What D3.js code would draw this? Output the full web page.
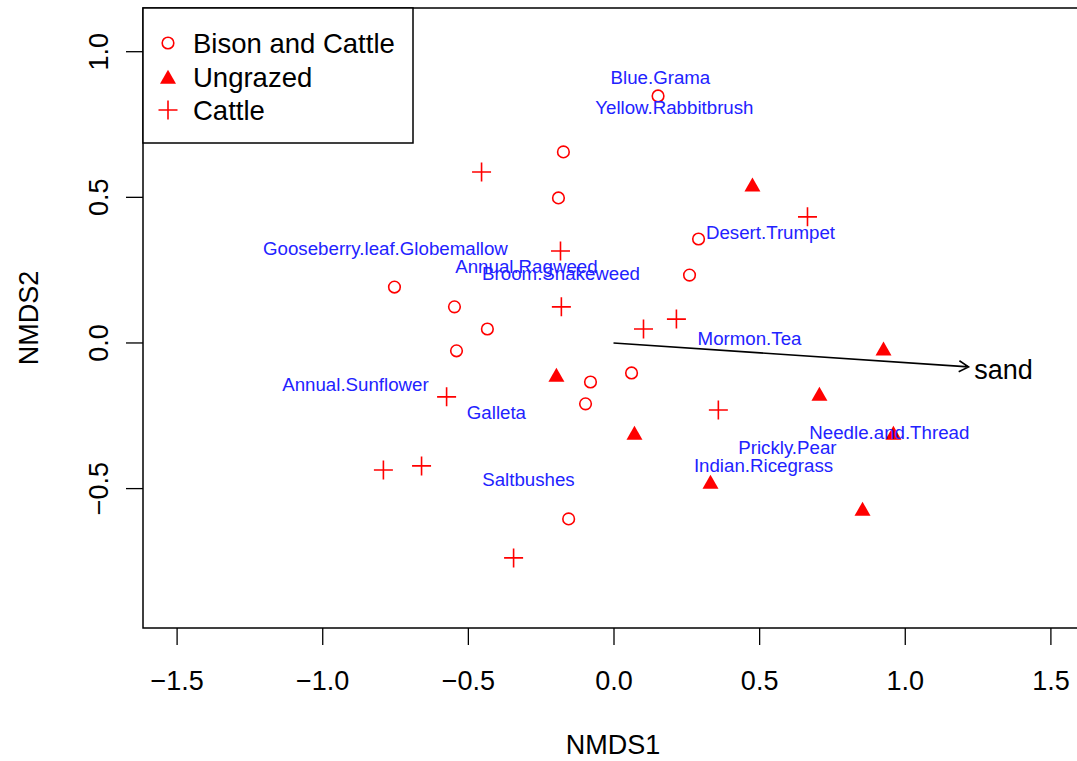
<!DOCTYPE html>
<html>
<head>
<meta charset="utf-8">
<script src="https://cdn.jsdelivr.net/npm/d3@7"></script>
<style>
  body { margin: 0; background: #fff; }
  svg { display: block; font-family: "Liberation Sans", Arial, Helvetica, sans-serif; }
</style>
</head>
<body>
<div id="chart"></div>
<script>
// site scores (NMDS1, NMDS2)
const bisonCattle = [
  [0.153, 0.848], [-0.172, 0.656], [-0.189, 0.498], [0.292, 0.357], [0.261, 0.233],
  [-0.752, 0.192], [-0.546, 0.124], [-0.433, 0.048], [-0.539, -0.027], [0.062, -0.103],
  [-0.079, -0.134], [-0.096, -0.209], [-0.154, -0.604]
];
const ungrazed = [
  [0.477, 0.536], [-0.196, -0.117], [0.927, -0.027], [0.707, -0.182],
  [0.072, -0.316], [0.961, -0.316], [0.333, -0.484], [0.855, -0.577]
];
const cattle = [
  [-0.453, 0.587], [0.666, 0.433], [-0.182, 0.316], [-0.179, 0.124], [0.103, 0.048],
  [0.216, 0.082], [0.360, -0.230], [-0.573, -0.185], [-0.659, -0.422], [-0.790, -0.436],
  [-0.343, -0.738]
];

// species scores
const speciesNames = ["Blue.Grama", "Yellow.Rabbitbrush", "Desert.Trumpet", "Gooseberry.leaf.Globemallow",
  "Annual.Ragweed", "Broom.Snakeweed", "Mormon.Tea", "Annual.Sunflower", "Galleta",
  "Needle.and.Thread", "Prickly.Pear", "Indian.Ricegrass", "Saltbushes"];
const speciesX = [0.161, 0.209, 0.539, -0.783, -0.299, -0.180, 0.467, -0.886, -0.402, 0.947, 0.597, 0.515, -0.292];
const speciesY = [0.913, 0.807, 0.378, 0.323, 0.264, 0.237, 0.017, -0.144, -0.240, -0.309, -0.359, -0.422, -0.470];

// env fit vector
const envName = "sand";
const envVec = [1.219, -0.082];
const envLabel = [1.339, -0.093];

const xTicks = [-1.5, -1.0, -0.5, 0.0, 0.5, 1.0, 1.5];
const yTicks = [-0.5, 0.0, 0.5, 1.0];
const legendLabels = ["Bison and Cattle", "Ungrazed", "Cattle"];

const W = 1077, H = 761;
const box = { left: 143, right: 1083, top: 8, bottom: 628 };
const RED = "#ff0000";

const svg = d3.select("#chart").append("svg").attr("width", W).attr("height", H);

const x = d3.scaleLinear().domain([-1.5, 1.5]).range([176.6, 1050.4]);
const y = d3.scaleLinear().domain([-0.5, 1.0]).range([488.6, 51.7]);

// plot frame
svg.append("rect")
  .attr("x", box.left).attr("y", box.top)
  .attr("width", box.right - box.left).attr("height", box.bottom - box.top)
  .attr("fill", "none").attr("stroke", "#000").attr("stroke-width", 1.5);

// axes, R style: ticks outward, labels at some distance
const xAxis = d3.axisBottom(x).tickValues(xTicks).tickSize(17).tickPadding(26)
  .tickFormat(d => d3.format(".1f")(d).replace("-", "\u2212"));
const gx = svg.append("g").attr("transform", `translate(0,${box.bottom})`).call(xAxis);
gx.select(".domain").remove();
gx.selectAll("line").attr("stroke", "#000").attr("stroke-width", 1.3);
gx.selectAll("text").attr("font-size", 27).attr("fill", "#000").attr("font-family", null);

const gy = svg.append("g").attr("transform", `translate(${box.left},0)`);
gy.selectAll("line").data(yTicks).join("line")
  .attr("x1", 0).attr("x2", -17).attr("y1", d => y(d)).attr("y2", d => y(d))
  .attr("stroke", "#000").attr("stroke-width", 1.3);
gy.selectAll("text").data(yTicks).join("text")
  .attr("transform", d => `translate(-35,${y(d)}) rotate(-90)`)
  .attr("text-anchor", "middle")
  .attr("font-size", 27)
  .text(d => d3.format(".1f")(d).replace("-", "\u2212"));

svg.append("text").attr("x", (box.left + box.right) / 2).attr("y", 754)
  .attr("text-anchor", "middle").attr("font-size", 27).text("NMDS1");
svg.append("text")
  .attr("transform", `translate(38,${(box.top + box.bottom) / 2}) rotate(-90)`)
  .attr("text-anchor", "middle").attr("font-size", 27).text("NMDS2");

// symbols
const circleSym = (g, cx, cy) => g.append("circle").attr("cx", cx).attr("cy", cy).attr("r", 5.8)
  .attr("fill", "none").attr("stroke", RED).attr("stroke-width", 1.6);
const triSym = (g, cx, cy) => g.append("path")
  .attr("d", `M${cx},${cy - 9.3}L${cx + 8},${cy + 4.7}L${cx - 8},${cy + 4.7}Z`)
  .attr("fill", RED);
const plusSym = (g, cx, cy) => g.append("path")
  .attr("d", `M${cx - 9.5},${cy}H${cx + 9.5}M${cx},${cy - 9.5}V${cy + 9.5}`)
  .attr("stroke", RED).attr("stroke-width", 1.6).attr("fill", "none");

const pts = svg.append("g");
bisonCattle.forEach(d => circleSym(pts, x(d[0]), y(d[1])));
ungrazed.forEach(d => triSym(pts, x(d[0]), y(d[1])));
cattle.forEach(d => plusSym(pts, x(d[0]), y(d[1])));

// species labels
svg.append("g").selectAll("text").data(speciesNames).join("text")
  .attr("x", (d, i) => x(speciesX[i]))
  .attr("y", (d, i) => y(speciesY[i]))
  .attr("text-anchor", "middle")
  .attr("dominant-baseline", "central")
  .attr("font-size", 18.7)
  .attr("fill", "#2222ff")
  .text(d => d);

// sand arrow
const x0 = x(0), y0 = y(0), x1 = x(envVec[0]), y1 = y(envVec[1]);
const ang = Math.atan2(y1 - y0, x1 - x0);
const hl = 11, ha = Math.PI / 6;
svg.append("path")
  .attr("d", `M${x0},${y0}L${x1},${y1}` +
    `M${x1 - hl * Math.cos(ang - ha)},${y1 - hl * Math.sin(ang - ha)}L${x1},${y1}` +
    `L${x1 - hl * Math.cos(ang + ha)},${y1 - hl * Math.sin(ang + ha)}`)
  .attr("fill", "none").attr("stroke", "#000").attr("stroke-width", 1.6);
svg.append("text").attr("x", x(envLabel[0])).attr("y", y(envLabel[1]))
  .attr("text-anchor", "middle").attr("dominant-baseline", "central")
  .attr("font-size", 27).text(envName);

// legend
const lg = svg.append("g");
lg.append("rect").attr("x", box.left).attr("y", box.top).attr("width", 270).attr("height", 135)
  .attr("fill", "#fff").attr("stroke", "#000").attr("stroke-width", 1.5);
const rowY = [43, 77, 110];
circleSym(lg, 168, rowY[0]);
triSym(lg, 168, rowY[1] + 2);
plusSym(lg, 168, rowY[2]);
legendLabels.forEach((t, i) => {
  lg.append("text").attr("x", 193).attr("y", rowY[i] + 10).attr("font-size", 27.5).text(t);
});
</script>
</body>
</html>
